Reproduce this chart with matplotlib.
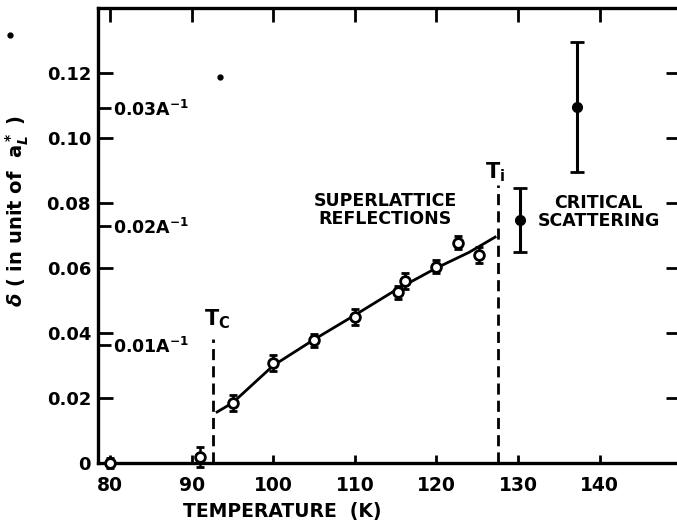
import numpy as np
import matplotlib
matplotlib.use('Agg')
import matplotlib.pyplot as plt

# superlattice reflections (open circles)
t_sl = [80, 91, 95, 100, 105, 110, 115.3, 116.2, 120, 122.6, 125.2]
d_sl = [0.0, 0.0018, 0.0185, 0.0308, 0.0377, 0.0450, 0.0526, 0.0560, 0.0603, 0.0677, 0.0640]
e_sl = [0.0015, 0.003, 0.0025, 0.0025, 0.002, 0.0025, 0.002, 0.0025, 0.002, 0.002, 0.0025]

# critical scattering (filled circles)
t_cs = [130.3, 137.3]
d_cs = [0.0748, 0.1095]
e_lo = [0.0099, 0.020]
e_hi = [0.0098, 0.020]

# fitted curve
t_fit = [93.1, 95, 100, 105, 110, 115, 120, 124, 127.2]
d_fit = [0.0157, 0.0185, 0.0300, 0.0380, 0.0455, 0.0532, 0.0600, 0.0648, 0.0695]

Tc = 92.6
Ti = 127.6

# secondary scale: 0.01 A^-1 in units of a*_L
q_ticks = [0.01, 0.02, 0.03]
q_to_d = 3.64

# scan specks
speck_t = [93.5, 67.7]
speck_d = [0.1188, 0.1317]

plt.rcParams['font.family'] = 'DejaVu Sans'
plt.rcParams['font.weight'] = 'bold'

fig = plt.figure(figsize=(6.77, 5.28), dpi=100)
ax = fig.add_axes([0.1448, 0.1231, 0.866, 0.8619])

ax.plot(t_fit, d_fit, color='black', lw=2.0, zorder=2)

ax.errorbar(t_sl, d_sl, yerr=e_sl, fmt='o', ms=7, mfc='white', mec='black', mew=2,
            ecolor='black', elinewidth=1.8, capsize=3, capthick=1.8, clip_on=False, zorder=3)
ax.errorbar(t_cs, d_cs, yerr=[e_lo, e_hi], fmt='o', ms=7, mfc='black', mec='black',
            ecolor='black', elinewidth=2.2, capsize=5, capthick=2, zorder=3)

ax.plot(speck_t, speck_d, 'o', color='black', ms=3.5, clip_on=False)

ax.plot([Tc, Tc], [0, 0.038], color='black', lw=2, dashes=(4, 2.2))
ax.plot([Ti, Ti], [0, 0.0855], color='black', lw=2, dashes=(4, 2.2))

ax.text(93.1, 0.0443, r'$\mathbf{T_C}$', fontsize=15, ha='center', va='center')
ax.text(127.2, 0.0895, r'$\mathbf{T_i}$', fontsize=15, ha='center', va='center')
ax.text(113.7, 0.0778, 'SUPERLATTICE\nREFLECTIONS', fontsize=12.5, ha='center', va='center',
        fontweight='bold', linespacing=1.0)
ax.text(139.9, 0.0772, 'CRITICAL\nSCATTERING', fontsize=12.5, ha='center', va='center',
        fontweight='bold', linespacing=1.0)

ax.set_xlim(78.5, 150.4)
ax.set_ylim(0, 0.14)
ax.set_xticks([80, 90, 100, 110, 120, 130, 140])
ax.set_yticks([0, 0.02, 0.04, 0.06, 0.08, 0.10, 0.12])
ax.set_yticklabels(['0', '0.02', '0.04', '0.06', '0.08', '0.10', '0.12'])
ax.tick_params(axis='both', which='major', direction='in', top=True, right=True, width=2)
ax.tick_params(axis='y', length=11, pad=5, labelsize=13)
ax.tick_params(axis='x', length=6, pad=9, labelsize=13.5)
for tk in ax.xaxis.get_major_ticks():
    tk.tick2line.set_markersize(10)
for tk in ax.yaxis.get_major_ticks():
    tk.tick2line.set_markersize(13)
for s in ax.spines.values():
    s.set_linewidth(2.4)

# inner A^-1 scale on the left axis
sec = ax.secondary_yaxis(0, functions=(lambda d: d / q_to_d, lambda q: q * q_to_d))
sec.set_yticks(q_ticks)
sec.set_yticklabels(['0.0%dA$^{-1}$' % int(round(q * 100)) for q in q_ticks])
sec.yaxis.set_ticks_position('right')
sec.tick_params(direction='out', length=9, width=2, labelsize=12.5, pad=2)
sec.spines['left'].set_visible(False)
sec.spines['right'].set_visible(False)

ax.set_xlabel('TEMPERATURE  (K)', fontsize=13.5, fontweight='bold')
ax.xaxis.set_label_coords(0.315, -0.086)
ax.set_ylabel(r'$\delta$ ( in unit of  a$_L^*$ )', fontsize=14, fontweight='bold')
ax.yaxis.set_label_coords(-0.115, 0.554)

fig.savefig('out.png', dpi=100)
